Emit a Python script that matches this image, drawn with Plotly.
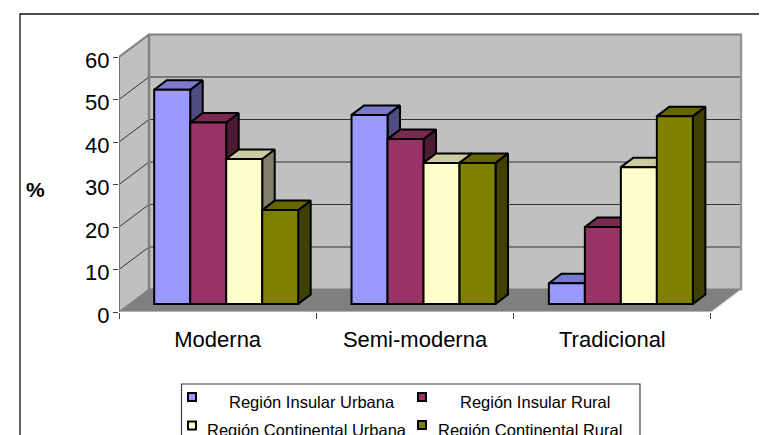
import plotly.graph_objects as go

categories = ["Moderna", "Semi-moderna", "Tradicional"]
series_names = ["Región Insular Urbana", "Región Insular Rural",
                "Región Continental Urbana", "Región Continental Rural"]
insular_urbana = [50.4, 44.5, 4.9]
insular_rural = [42.7, 38.8, 18.1]
continental_urbana = [34.1, 33.2, 32.2]
continental_rural = [22.1, 33.2, 44.2]
series_values = [insular_urbana, insular_rural, continental_urbana, continental_rural]
front = ["#9999FF", "#993366", "#FFFFCC", "#808000"]
top = ["#7A7ACC", "#7A2952", "#CCCCA3", "#666600"]
side = ["#4D4D80", "#4D1A33", "#80806B", "#404000"]
y_ticks = [0, 10, 20, 30, 40, 50, 60]

OFF = 8                                  # page margin round the plot
W, H = 767 - OFF, 435 - OFF
L, R, T, B = 119 - OFF, 762 - OFF, 24 - OFF, 312 - OFF
UX = 197.33                              # pixels per category
UY = 4.25                                # pixels per percent
X0 = 217.7 - OFF                         # first category, front plane
xr = [(L - X0) / UX, (R - X0) / UX]
yr = [0, (B - T) / UY]
BSX, BSY = 8.5 / UX, 8 / UY              # bars stand back on the floor
DX, DY = 12.5 / UX, 9.5 / UY             # bar depth
WX, WY = 30 / UX, 22.5 / UY              # wall depth
BW = 36 / UX
LABEL_DROP = 3 / UY                      # y labels sit a little below their ticks
LABEL_EXTRA = 12                         # label axis reaches this many pixels below the plot

fig = go.Figure()


def poly(xs, ys, fill, line="black", lw=1.0, xa="x", ya="y"):
    fig.add_trace(go.Scatter(x=xs, y=ys, mode="lines", fill="toself", fillcolor=fill,
                             line=dict(color=line, width=lw), xaxis=xa, yaxis=ya,
                             hoverinfo="skip", showlegend=False))


def seg(xs, ys, color, lw):
    fig.add_trace(go.Scatter(x=xs, y=ys, mode="lines", line=dict(color=color, width=lw),
                             hoverinfo="skip", showlegend=False))


xl = (119 - OFF - X0) / UX
xe = (711 - OFF - X0) / UX
ymax = y_ticks[-1]
# walls and floor
poly([xl + WX, xe + WX, xe + WX, xl + WX, xl + WX], [WY, WY, ymax + WY, ymax + WY, WY], "#C0C0C0", "#808080", 2)
poly([xl, xl + WX, xl + WX, xl, xl], [0, WY, ymax + WY, ymax, 0], "#C0C0C0", "#808080", 1.5)
poly([xl, xe, xe + WX, xl + WX, xl], [0, 0, WY, WY, 0], "#808080", "#808080", 1)
seg([xl, xe, xe + WX], [0, 0, WY], "#E8E8E8", 1)
# grid lines on both walls
for t in y_ticks[1:-1]:
    seg([xl, xl + WX, xe + WX], [t, t + WY, t + WY], "#333333", 1)
seg([xl, xl + WX], [ymax, ymax + WY], "#808080", 2)
seg([xl + WX, xl + WX], [WY, ymax + WY], "#808080", 2.5)
seg([xe + WX, xe + WX], [WY, ymax + WY], "#969696", 2.5)
seg([xl, xl], [0, ymax], "#707070", 2)

# tick labels live on their own axis, dropped a little below the tick marks
fig.add_trace(go.Scatter(x=[xl, xl], y=[0, ymax], mode="lines", opacity=0, xaxis="x", yaxis="y4",
                         hoverinfo="skip", showlegend=False))

# tops and sides of the bars, drawn in their own overlay so they lie under the fronts
for g in range(len(categories)):
    for i, vals in enumerate(series_values):
        v = vals[g]
        x1 = g + (i - 2) * BW + BSX
        x2 = x1 + BW
        poly([x2, x2 + DX, x2 + DX, x2, x2], [BSY, BSY + DY, BSY + DY + v, BSY + v, BSY],
             side[i], "black", 2, "x2", "y2")
        poly([x1, x2, x2 + DX, x1 + DX, x1], [BSY + v, BSY + v, BSY + v + DY, BSY + v + DY, BSY + v],
             top[i], "black", 2, "x2", "y2")

# bar fronts
for i, vals in enumerate(series_values):
    fig.add_trace(go.Bar(x=[0, 1, 2], y=vals, name=series_names[i],
                         marker=dict(color=front[i], line=dict(color="black", width=2)),
                         xaxis="x3", yaxis="y3", showlegend=False, offsetgroup=str(i)))

shapes = []
ann = []


def px(x):
    return (x - OFF) / W


def py(y):
    return 1 - (y - OFF) / H


def rect(x0, y0, x1, y1, color, fill="rgba(0,0,0,0)", lw=1):
    shapes.append(dict(type="rect", xref="paper", yref="paper", x0=px(x0), x1=px(x1), y0=py(y0), y1=py(y1),
                       line=dict(color=color, width=lw), fillcolor=fill, layer="above"))


rect(20, 14, 800, 470, "#111111", lw=1.3)
rect(181.5, 384, 640, 470, "#404040", lw=1.2)
pos = [(192, 397, 312, 401.5), (422, 397, 534.5, 401.5), (192, 425.5, 307, 430), (422, 425, 529.5, 430)]
for (mx, my, tx, ty), name, c in zip(pos, series_names, front):
    rect(mx - 4, my - 4, mx + 4, my + 4, "black", c, 2)
    ann.append(dict(text=name, xref="paper", yref="paper", x=px(tx), y=py(ty), showarrow=False,
                    xanchor="center", yanchor="middle", font=dict(size=16.5)))
ann.append(dict(text="<b>%</b>", xref="paper", yref="paper", x=px(35.5), y=py(189), showarrow=False,
                xanchor="center", yanchor="middle", font=dict(size=21)))

dom_x = [L / W, R / W]
dom_y = [1 - B / H, 1 - T / H]
fig.update_layout(
    width=W, height=H, margin=dict(l=0, r=0, t=0, b=0), paper_bgcolor="white", plot_bgcolor="rgba(0,0,0,0)",
    autosize=False, showlegend=False, barmode="group", bargap=1 - 4 * BW, bargroupgap=0,
    font=dict(family="Liberation Sans, Arial, sans-serif", color="black"),
    shapes=shapes, annotations=ann,
    xaxis=dict(domain=dom_x, range=xr, tickmode="array", tickvals=[0, 1, 2], ticktext=categories, ticks="", ticklen=0,
               automargin=False,
               tickfont=dict(size=22), showgrid=False, zeroline=False, showline=False, ticklabelstandoff=12,
               minor=dict(tickmode="array", tickvals=[xl + k for k in range(4)], ticks="outside", ticklen=6,
                          tickcolor="#404040", tickwidth=1, showgrid=False)),
    yaxis=dict(domain=dom_y, range=yr, tickmode="array", tickvals=y_ticks, ticks="outside", ticklen=5, tickcolor="#404040",
               automargin=False, showticklabels=False, showgrid=False, zeroline=False, showline=False),
    yaxis4=dict(domain=[1 - (B + LABEL_EXTRA) / H, 1 - T / H], automargin=False,
                range=[LABEL_DROP - LABEL_EXTRA / UY, yr[1] + LABEL_DROP], side="left", anchor="x",
                tickmode="array", tickvals=y_ticks, ticks="outside", ticklen=4, tickcolor="rgba(0,0,0,0)",
                tickfont=dict(size=22), showgrid=False, zeroline=False, showline=False),
    xaxis2=dict(domain=dom_x, range=xr, overlaying="x", visible=False, automargin=False),
    yaxis2=dict(domain=dom_y, range=yr, overlaying="y", visible=False, automargin=False),
    xaxis3=dict(domain=dom_x, range=[xr[0] - BSX, xr[1] - BSX], overlaying="x", visible=False, automargin=False),
    yaxis3=dict(domain=dom_y, range=[yr[0] - BSY, yr[1] - BSY], overlaying="y", visible=False, automargin=False),
)
fig.write_html("out.html", config=dict(displayModeBar=False))
